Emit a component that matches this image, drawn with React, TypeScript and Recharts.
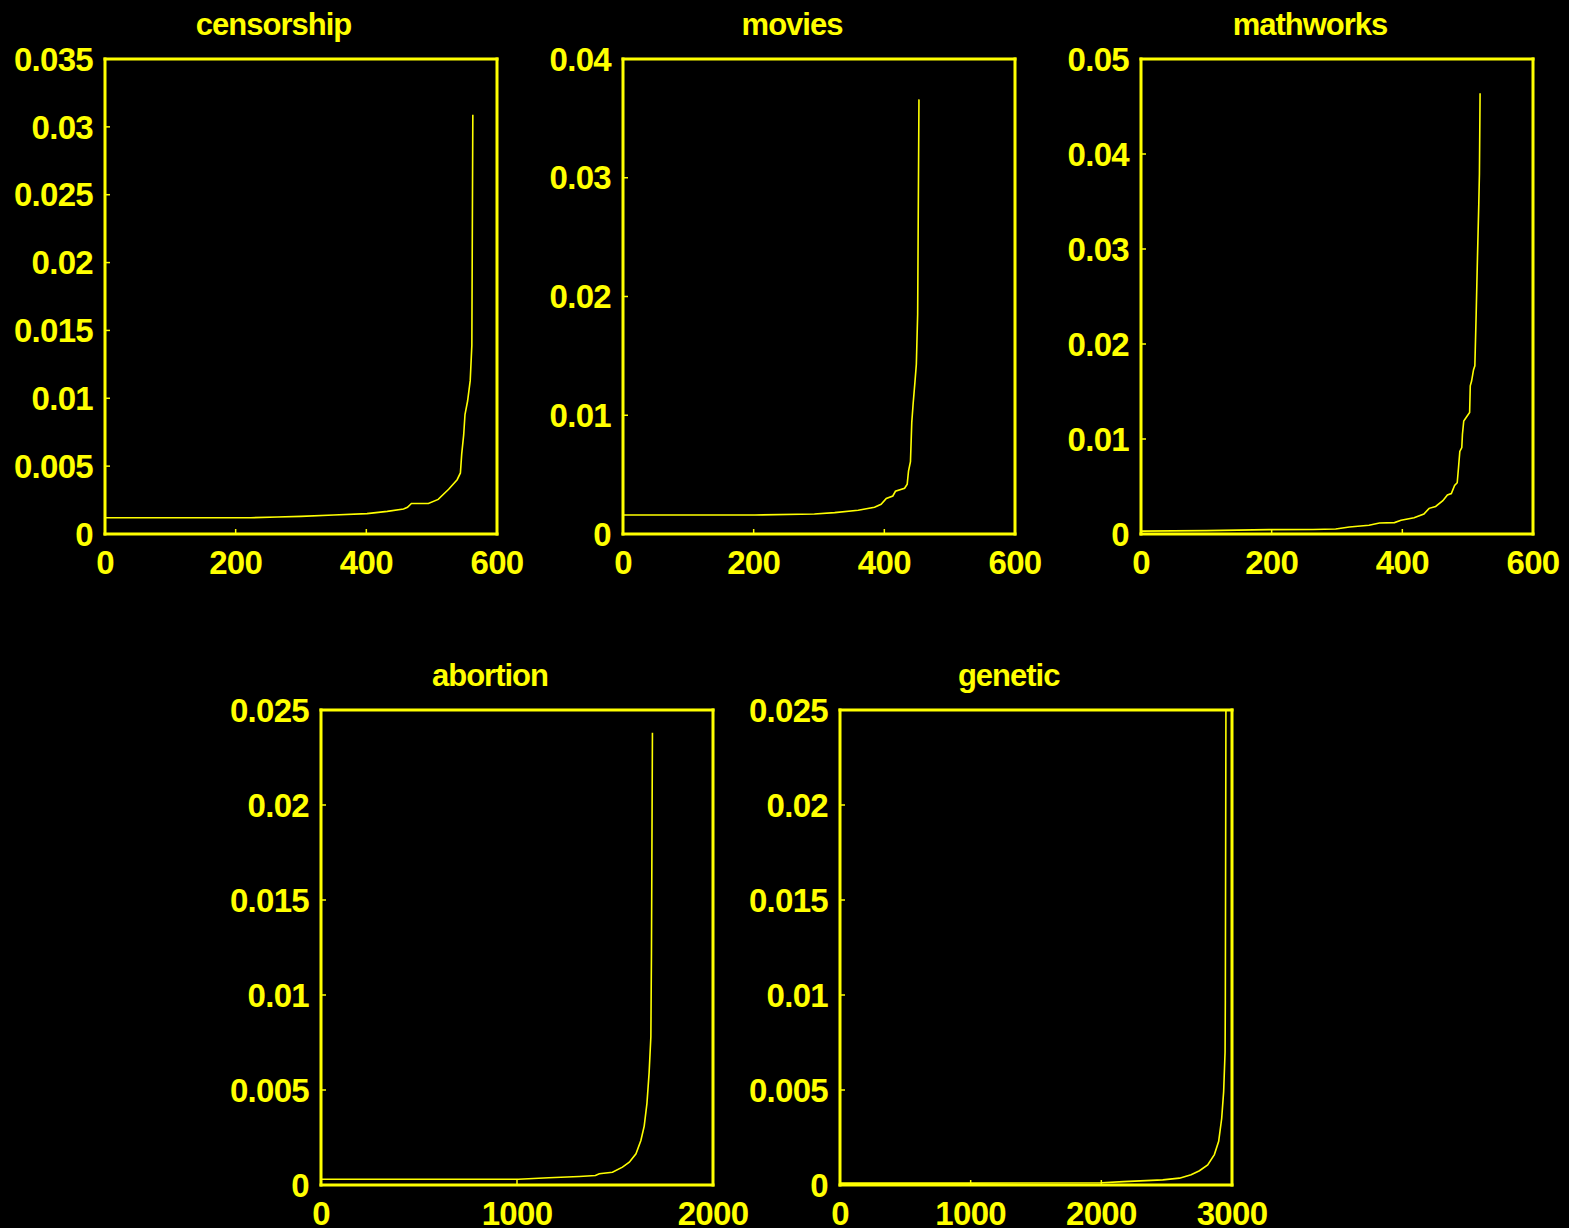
import React from 'react'
import { LineChart, Line, XAxis, YAxis } from 'recharts'

// ranks (x) and sorted values (y)
const censorshipX = [0, 100, 223, 264, 300, 350, 401, 432, 457, 463, 469, 495, 510, 526, 539, 544, 546, 549, 551, 555, 559, 561.5, 563]
const censorshipY = [0.0012, 0.0012, 0.0012, 0.00125, 0.0013, 0.0014, 0.0015, 0.00167, 0.00184, 0.00197, 0.00225, 0.00225, 0.00255, 0.0033, 0.004, 0.0045, 0.0059, 0.0073, 0.0088, 0.0098, 0.0113, 0.0139, 0.0309]

const moviesX = [0, 100, 202, 293, 324, 360, 385, 395, 403, 413, 417, 431, 435, 437, 440, 442, 444, 447, 449, 451, 453]
const moviesY = [0.0016, 0.0016, 0.0016, 0.00168, 0.0018, 0.002, 0.00225, 0.0025, 0.003, 0.0032, 0.0036, 0.00385, 0.0042, 0.0053, 0.0061, 0.0094, 0.0109, 0.0129, 0.0143, 0.0185, 0.0366]

const mathworksX = [0, 100, 196, 263, 298, 319, 349, 365, 388, 398, 418, 433, 441, 451, 462, 469, 475, 480, 484, 486, 488, 491, 492, 494, 499, 503, 504, 506, 509, 511, 513, 515, 517, 518, 519]
const mathworksY = [0.0003, 0.00036, 0.00046, 0.00048, 0.00053, 0.00074, 0.00092, 0.00116, 0.0012, 0.00144, 0.0017, 0.0021, 0.0027, 0.0029, 0.0035, 0.0041, 0.00425, 0.0051, 0.0054, 0.007, 0.0087, 0.0091, 0.0105, 0.0119, 0.0124, 0.0128, 0.0156, 0.0161, 0.0173, 0.0177, 0.0231, 0.0291, 0.0347, 0.0379, 0.0464]

const abortionX = [0, 500, 1008, 1162, 1318, 1400, 1420, 1487, 1538, 1573, 1607, 1632, 1649, 1663, 1674, 1683, 1686, 1691]
const abortionY = [0.0003, 0.0003, 0.0003, 0.00038, 0.00045, 0.0005, 0.00059, 0.00067, 0.00094, 0.0012, 0.00164, 0.00234, 0.0031, 0.0043, 0.0059, 0.0078, 0.0122, 0.0238]

const geneticX = [0, 1000, 2000, 2170, 2470, 2598, 2687, 2751, 2814, 2865, 2898, 2921, 2936, 2947, 2949, 2954]
const geneticY = [0.0001, 0.0001, 0.00012, 0.00018, 0.00027, 0.00036, 0.00054, 0.00075, 0.00106, 0.0016, 0.0023, 0.0035, 0.0049, 0.007, 0.0097, 0.0265]

const xTicks600 = [0, 200, 400, 600]
const xTicks2000 = [0, 1000, 2000]
const xTicks3000 = [0, 1000, 2000, 3000]
const yTicks035 = [0, 0.005, 0.01, 0.015, 0.02, 0.025, 0.03, 0.035]
const yTicks04 = [0, 0.01, 0.02, 0.03, 0.04]
const yTicks05 = [0, 0.01, 0.02, 0.03, 0.04, 0.05]
const yTicks025 = [0, 0.005, 0.01, 0.015, 0.02, 0.025]

const YELLOW = '#ffff00'
const FONT = '"Liberation Sans", Arial, Helvetica, sans-serif'

const PLOT_W = 392
const PLOT_H = 475
const PAD_L = 100
const PAD_T = 60
const PAD_R = 50
const PAD_B = 60

const tickStyle = {
  fill: YELLOW,
  fontSize: 33,
  fontWeight: 'bold',
  fontFamily: FONT,
  letterSpacing: -0.7,
}
const axisLineStyle = { stroke: YELLOW, strokeWidth: 3, strokeLinecap: 'square' as const }
const tickLineStyle = { stroke: YELLOW, strokeWidth: 1.5 }

interface PanelProps {
  title: string
  xs: number[]
  ys: number[]
  xMax: number
  yMax: number
  xTicks: number[]
  yTicks: number[]
  left: number
  top: number
}

function Panel({ title, xs, ys, xMax, yMax, xTicks, yTicks, left, top }: PanelProps) {
  const data = xs.map((x, i) => ({ x, y: ys[i] }))
  return (
    <>
      <div
        style={{
          position: 'absolute',
          left: left + PLOT_W / 2 - 27 - 150,
          top: top - 49.5,
          width: 300,
          textAlign: 'center',
          color: YELLOW,
          fontFamily: FONT,
          fontWeight: 'bold',
          fontSize: 31,
          lineHeight: 1,
          letterSpacing: -1,
        }}
      >
        {title}
      </div>
      <div style={{ position: 'absolute', left: left - PAD_L, top: top - PAD_T }}>
        <LineChart
          width={PAD_L + PLOT_W + PAD_R}
          height={PAD_T + PLOT_H + PAD_B}
          data={data}
          margin={{ top: 0, right: 0, bottom: 0, left: 0 }}
        >
          <XAxis
            dataKey="x"
            type="number"
            domain={[0, xMax]}
            ticks={xTicks}
            interval={0}
            height={PAD_B}
            tick={tickStyle}
            tickSize={-5}
            tickMargin={22}
            axisLine={axisLineStyle}
            tickLine={tickLineStyle}
          />
          <XAxis
            xAxisId="top"
            orientation="top"
            type="number"
            domain={[0, xMax]}
            ticks={xTicks}
            interval={0}
            height={PAD_T}
            tick={false}
            tickSize={-5}
            axisLine={axisLineStyle}
            tickLine={tickLineStyle}
          />
          <YAxis
            type="number"
            domain={[0, yMax]}
            ticks={yTicks}
            interval={0}
            width={PAD_L}
            allowDataOverflow
            tick={tickStyle}
            tickSize={-5}
            tickMargin={17}
            axisLine={axisLineStyle}
            tickLine={tickLineStyle}
          />
          <YAxis
            yAxisId="right"
            orientation="right"
            type="number"
            domain={[0, yMax]}
            ticks={yTicks}
            interval={0}
            width={PAD_R}
            tick={false}
            tickSize={-5}
            axisLine={axisLineStyle}
            tickLine={tickLineStyle}
          />
          <Line
            type="linear"
            dataKey="y"
            stroke={YELLOW}
            strokeWidth={1.6}
            dot={false}
            isAnimationActive={false}
          />
        </LineChart>
      </div>
    </>
  )
}

export default function App() {
  return (
    <div
      style={{
        position: 'absolute',
        left: 0,
        top: 0,
        width: 1569,
        height: 1228,
        background: '#000',
        overflow: 'hidden',
      }}
    >
      <Panel title="censorship" xs={censorshipX} ys={censorshipY} xMax={600} yMax={0.035} xTicks={xTicks600} yTicks={yTicks035} left={104.5} top={58.5} />
      <Panel title="movies" xs={moviesX} ys={moviesY} xMax={600} yMax={0.04} xTicks={xTicks600} yTicks={yTicks04} left={623} top={58.5} />
      <Panel title="mathworks" xs={mathworksX} ys={mathworksY} xMax={600} yMax={0.05} xTicks={xTicks600} yTicks={yTicks05} left={1141} top={58.5} />
      <Panel title="abortion" xs={abortionX} ys={abortionY} xMax={2000} yMax={0.025} xTicks={xTicks2000} yTicks={yTicks025} left={321} top={709.5} />
      <Panel title="genetic" xs={geneticX} ys={geneticY} xMax={3000} yMax={0.025} xTicks={xTicks3000} yTicks={yTicks025} left={839.7} top={709.5} />
    </div>
  )
}
